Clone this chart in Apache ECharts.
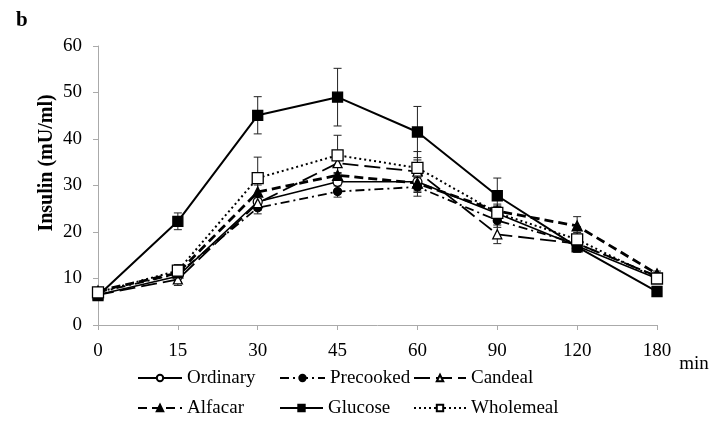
<!DOCTYPE html>
<html><head><meta charset="utf-8">
<script src="https://cdn.jsdelivr.net/npm/echarts@6/dist/echarts.min.js"></script>
<style>html,body{margin:0;padding:0;background:#fff}#c{width:713px;height:422px}</style>
</head><body><div id="c"></div>
<script>
var categories = ['0','15','30','45','60','90','120','180'];
var Ordinary  = [6.5, 10.5, 26.5, 30.8, 30.8, 24.0, 17.0, 10.0];
var Precooked = [7.0, 11.0, 25.2, 28.7, 29.7, 22.5, 17.5, 10.5];
var Candeal   = [6.5, 9.8, 26.2, 34.8, 33.0, 19.5, 17.5, 10.5];
var Alfacar   = [7.3, 11.2, 28.6, 32.2, 30.5, 24.5, 21.3, 11.0];
var Glucose   = [6.3, 22.3, 45.1, 49.0, 41.5, 27.8, 16.8, 7.2];
var Wholemeal = [7.0, 11.7, 31.6, 36.5, 33.8, 24.1, 18.4, 10.0];
var OrdinaryErr  = [0.8, 1.2, 1.5, 1.8, 2.0, 1.5, 1.2, 0.6];
var PrecookedErr = [0.8, 1.0, 1.3, 1.2, 2.0, 1.5, 1.2, 0.6];
var CandealErr   = [0.8, 1.3, 1.5, 2.0, 2.5, 2.0, 1.5, 0.6];
var AlfacarErr   = [0.8, 1.0, 1.5, 2.0, 2.0, 1.5, 2.0, 0.6];
var GlucoseErr   = [1.0, 1.8, 4.0, 6.2, 5.5, 3.8, 1.2, 0.5];
var WholemealErr = [0.8, 1.3, 4.5, 4.3, 3.5, 1.5, 1.5, 0.7];

var serif = 'Liberation Serif';
var chart = echarts.init(document.getElementById('c'));

function errData(vals, errs){
  return vals.map(function(v,i){ return [i, v-errs[i], v+errs[i]]; });
}
function errSeries(name, vals, errs){
  return {
    type:'custom', name: name+'_err', silent:true, z:1,
    data: errData(vals, errs),
    renderItem: function(params, api){
      var lo = api.coord([api.value(0), api.value(1)]);
      var hi = api.coord([api.value(0), api.value(2)]);
      var w = 4;
      var st = {stroke:'#222', lineWidth:1};
      return {type:'group', children:[
        {type:'line', shape:{x1:lo[0],y1:lo[1],x2:hi[0],y2:hi[1]}, style:st},
        {type:'line', shape:{x1:lo[0]-w,y1:lo[1],x2:lo[0]+w,y2:lo[1]}, style:st},
        {type:'line', shape:{x1:hi[0]-w,y1:hi[1],x2:hi[0]+w,y2:hi[1]}, style:st}
      ]};
    }
  };
}
function lineSeries(name, vals, symbol, filled, lineType, width, size){
  return {
    type:'line', name:name, data:vals, symbol:symbol, symbolSize:size,
    z:3,
    lineStyle:{color:'#000', width:width, type:lineType},
    itemStyle:{color: filled ? '#000' : '#fff', borderColor:'#000', borderWidth:1.3},
    emphasis:{disabled:true}
  };
}
function leg(name, left, top, iw){
  return {data:[name], left:left, top:top, padding:0, itemWidth:iw, itemHeight:8, itemGap:0,
    textStyle:{fontFamily:serif, fontSize:19, color:'#000', lineHeight:22}};
}

var option = {
  animation:false,
  backgroundColor:'#fff',
  grid:{left:98, right:56, top:46, bottom:97},
  graphic:[
    {type:'text', left:16, top:10, style:{text:'b', font:'bold 21px "Liberation Serif"', fill:'#000'}},
    {type:'text', x:694, y:364, style:{text:'min', font:'19px "Liberation Serif"', fill:'#000', align:'center', verticalAlign:'middle'}},
    {type:'text', x:47, y:163, rotation:Math.PI/2, style:{text:'Insulin (mU/ml)', font:'bold 20px "Liberation Serif"', fill:'#000', align:'center', verticalAlign:'middle'}}
  ],
  xAxis:{
    type:'category', data:categories, boundaryGap:false,
    axisLine:{lineStyle:{color:'#aaa', width:1}},
    axisTick:{show:true, alignWithLabel:true, length:5, lineStyle:{color:'#aaa'}},
    axisLabel:{color:'#000', fontFamily:serif, fontSize:19, margin:17},
    splitLine:{show:false}
  },
  yAxis:{
    type:'value', min:0, max:60, interval:10,
    axisLine:{show:true, lineStyle:{color:'#aaa', width:1}},
    axisTick:{show:true, length:5, lineStyle:{color:'#aaa'}},
    axisLabel:{color:'#000', fontFamily:serif, fontSize:19, margin:16},
    splitLine:{show:false}
  },
  legend:[
    leg('Ordinary', 137, 367, 44),
    leg('Precooked', 279, 367, 45),
    leg('Candeal', 413, 367, 52),
    leg('Alfacar', 137, 397, 44),
    leg('Glucose', 279, 397, 43),
    leg('Wholemeal', 413, 397, 52)
  ],
  series:[
    errSeries('Ordinary', Ordinary, OrdinaryErr),
    errSeries('Precooked', Precooked, PrecookedErr),
    errSeries('Candeal', Candeal, CandealErr),
    errSeries('Alfacar', Alfacar, AlfacarErr),
    errSeries('Glucose', Glucose, GlucoseErr),
    errSeries('Wholemeal', Wholemeal, WholemealErr),
    lineSeries('Ordinary', Ordinary, 'circle', false, 'solid', 1.6, 9),
    lineSeries('Precooked', Precooked, 'circle', true, [9,4,2,4], 1.8, 8),
    lineSeries('Candeal', Candeal, 'triangle', false, [16,6], 1.8, 9),
    lineSeries('Alfacar', Alfacar, 'triangle', true, [9,5], 2.8, 10),
    lineSeries('Glucose', Glucose, 'rect', true, 'solid', 2, 10),
    lineSeries('Wholemeal', Wholemeal, 'rect', false, [2,3], 2, 11)
  ]
};
chart.setOption(option);
</script></body></html>
